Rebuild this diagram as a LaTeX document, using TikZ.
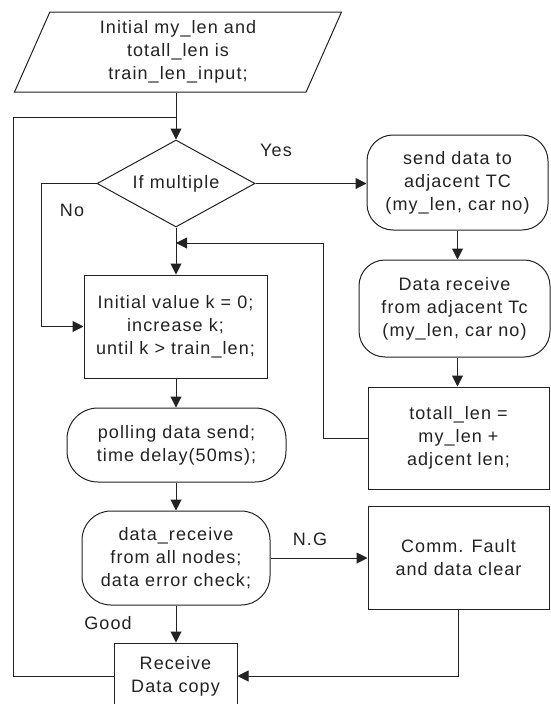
\documentclass[tikz,border=0pt]{standalone}
\usepackage{fontspec}
\setmainfont{Liberation Sans}[LetterSpace=6]
\usetikzlibrary{shapes.geometric,arrows.meta}
\definecolor{ink}{RGB}{34,34,34}
\begin{document}
\begin{tikzpicture}[x=1pt,y=-1pt,
  every node/.style={font=\fontsize{18}{23}\selectfont, text=ink, align=center},
  box/.style={draw=ink, line width=1pt, rectangle, inner sep=0pt},
  rbox/.style={box, rounded corners=26pt},
  lbl/.style={inner sep=0pt},
  arr/.style={draw=ink, line width=1pt, -{Triangle[length=11pt,width=11pt]}},
  ln/.style={draw=ink, line width=1pt}]
\useasboundingbox (0,0) rectangle (550,704);
\node[box, trapezium, trapezium left angle=60.6, trapezium right angle=119.4,
      trapezium stretches body, minimum width=327pt, minimum height=80pt] (input) at (178,52)
  {Initial my\_len and\\totall\_len is\\train\_len\_input;};
\node[box, diamond, aspect=1.8, minimum width=158pt, minimum height=87pt] (dec) at (176,183.5) {If multiple};
\node[rbox, minimum width=181pt, minimum height=95pt] (send) at (457.5,182.5) {send data to\\adjacent TC\\(my\_len, car no)};
\node[rbox, minimum width=191pt, minimum height=97pt] (recv) at (454.5,308.5) {Data receive\\from adjacent Tc\\(my\_len, car no)};
\node[box, minimum width=181pt, minimum height=102pt] (tot) at (458.5,438) {totall\_len =\\my\_len +\\adjcent len;};
\node[box, minimum width=183pt, minimum height=103pt] (init) at (175.5,326.5) {Initial value k = 0;\\increase k;\\until k > train\_len;};
\node[rbox, rounded corners=31pt, minimum width=219pt, minimum height=74pt] (poll) at (176.5,445) {polling data send;\\time delay(50ms);};
\node[rbox, rounded corners=29pt, minimum width=188pt, minimum height=94pt] (drecv) at (176,558) {data\_receive\\from all nodes;\\data error check;};
\node[box, minimum width=181pt, minimum height=103pt] (comm) at (458.5,557.5) {Comm. Fault\\and data clear};
\node[box, minimum width=123pt, minimum height=66pt] (copy) at (175.5,676) {Receive\\Data copy};
\node[lbl] (yes) at (276,150) {Yes};
\node[lbl] (no) at (72,210) {No};
\node[lbl] (ng) at (310,539) {N.G};
\node[lbl] (good) at (108,623) {Good};
\coordinate (lp) at (13,117);
\coordinate (nol) at (41,183.5);
\coordinate (fb) at (323,243);
\draw[arr] (input.south -| dec.north) -- (dec.north);
\draw[ln] (copy.west) -| (lp) -- (lp -| dec.north);
\draw[arr] (dec.east) -- (send.west |- dec.east);
\draw[arr] (dec.west) -- (nol) |- (init.west);
\draw[arr] (dec.south) -- (init.north -| dec.south);
\draw[arr] (send.south) -- (send.south |- recv.north);
\draw[arr] (send.south |- recv.south) -- (send.south |- tot.north);
\draw[arr] (tot.west) -| (fb) -- (fb -| dec.south);
\draw[arr] (init.south -| dec.south) -- (poll.north -| dec.south);
\draw[arr] (poll.south -| dec.south) -- (drecv.north -| dec.south);
\draw[arr] (drecv.south -| dec.south) -- (copy.north -| dec.south);
\draw[arr] (drecv.east) -- (comm.west |- drecv.east);
\draw[arr] (comm.south) |- (copy.east);
\end{tikzpicture}
\end{document}
